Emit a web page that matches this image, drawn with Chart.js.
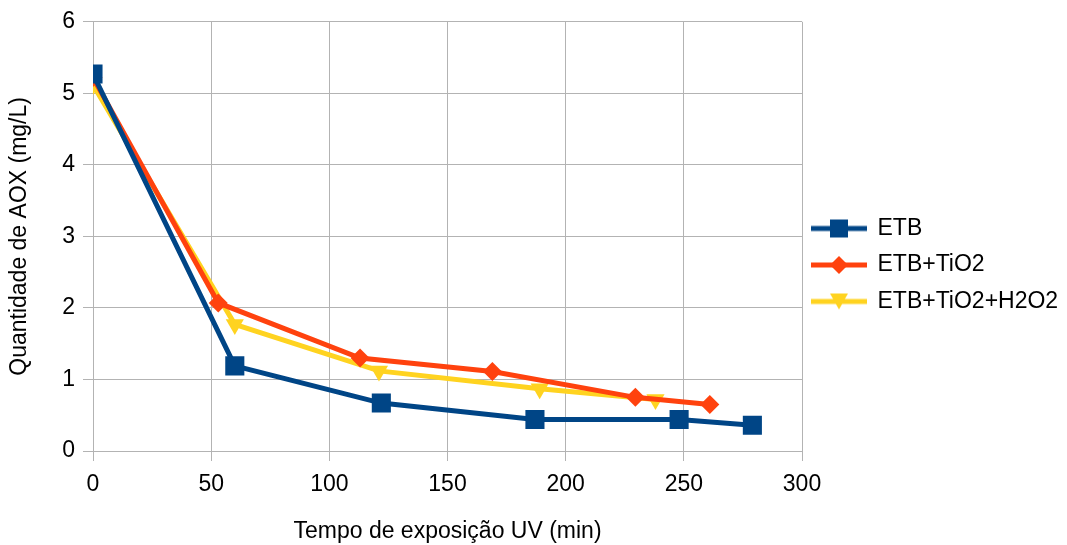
<!DOCTYPE html>
<html>
<head>
<meta charset="utf-8">
<script src="https://cdn.jsdelivr.net/npm/chart.js@4.4.1/dist/chart.umd.min.js"></script>
<style>
html,body{margin:0;padding:0;background:#fff;}
#wrap{width:1067px;height:545px;position:relative;}
</style>
</head>
<body>
<div id="wrap"><canvas id="c" width="1067" height="545"></canvas></div>
<script>
// ---- data ----
const seriesNames = ["ETB", "ETB+TiO2", "ETB+TiO2+H2O2"];
const timeETB = [0, 60, 122, 187, 248, 279];
const aoxETB = [5.27, 1.19, 0.67, 0.44, 0.44, 0.36];
const timeTiO2 = [0, 53, 113, 169, 229.5, 261];
const aoxTiO2 = [5.22, 2.07, 1.30, 1.11, 0.75, 0.65];
const timeH2O2 = [0, 60, 121, 189, 238];
const aoxH2O2 = [5.12, 1.77, 1.12, 0.87, 0.72];
const xTicks = [0, 50, 100, 150, 200, 250, 300];
const yTicks = [0, 1, 2, 3, 4, 5, 6];
const xTitle = "Tempo de exposição UV (min)";
const yTitle = "Quantidade de AOX (mg/L)";

const colors = ["#004586", "#ff420e", "#ffd320"];
const FONT = "'Liberation Sans', Arial, sans-serif";
const FS = 23;

function pts(xs, ys){ return xs.map((x,i)=>({x:x, y:ys[i]})); }

// legend glyph: line with marker
function legendGlyph(color, shape){
  const c = document.createElement('canvas');
  c.width = 56; c.height = 24;
  const g = c.getContext('2d');
  g.strokeStyle = color; g.lineWidth = 5;
  g.beginPath(); g.moveTo(0, 12); g.lineTo(56, 12); g.stroke();
  g.fillStyle = color;
  g.beginPath();
  if (shape === 'rect'){ g.rect(19, 3, 18, 18); }
  else if (shape === 'diamond'){ g.moveTo(28, 3); g.lineTo(37, 12); g.lineTo(28, 21); g.lineTo(19, 12); g.closePath(); }
  else { g.moveTo(19, 4); g.lineTo(37, 4); g.lineTo(28, 20); g.closePath(); }
  g.fill();
  return c;
}
const glyphs = [legendGlyph(colors[0],'rect'), legendGlyph(colors[1],'diamond'), legendGlyph(colors[2],'tri')];

const legendFix = {
  id: 'legendFix',
  beforeUpdate(chart){
    const l = chart.legend;
    if (l && !l._patched){
      const f = l.fit;
      l.fit = function(){ f.call(this); this.width = 265; };
      l._patched = true;
    }
  },
  afterLayout(chart){
    const l = chart.legend; if(!l) return;
    const targetY = 265;
    const dy = targetY - (l.top + l.bottom)/2;
    l.top += dy; l.bottom += dy;
    const targetLeft = 798.5;
    const dx = targetLeft - l.left;
    l.left += dx; l.right += dx;
  }
};

new Chart(document.getElementById('c'), {
  type: 'line',
  data: {
    datasets: [
      { label: seriesNames[0], data: pts(timeETB, aoxETB), borderColor: colors[0], backgroundColor: colors[0],
        borderWidth: 5, pointStyle: 'rect', pointRadius: 13.5, pointBorderWidth: 0, pointHoverRadius: 13.5 },
      { label: seriesNames[1], data: pts(timeTiO2, aoxTiO2), borderColor: colors[1], backgroundColor: colors[1],
        borderWidth: 5, pointStyle: 'rectRot', pointRadius: 9.5, pointBorderWidth: 0, pointHoverRadius: 9.5 },
      { label: seriesNames[2], data: pts(timeH2O2, aoxH2O2), borderColor: colors[2], backgroundColor: colors[2],
        borderWidth: 5, pointStyle: 'triangle', pointRotation: 180, pointRadius: 10.5, pointBorderWidth: 0, pointHoverRadius: 10.5 }
    ]
  },
  options: {
    responsive: false,
    animation: false,
    devicePixelRatio: 1,
    layout: { padding: { top: 20, right: 0, bottom: 0, left: 0 } },
    plugins: {
      legend: {
        position: 'right',
        align: 'center',
        labels: {
          usePointStyle: true,
          pointStyleWidth: 54,
          padding: 13.5,
          color: '#000',
          font: { family: FONT, size: FS },
          generateLabels(chart){
            return chart.data.datasets.map((ds,i)=>({
              text: ds.label, pointStyle: glyphs[i], fillStyle: colors[i], strokeStyle: colors[i],
              lineWidth: 0, hidden: false, datasetIndex: i, fontColor: '#000'
            }));
          }
        }
      },
      tooltip: { enabled: false }
    },
    scales: {
      x: {
        type: 'linear', min: 0, max: 300,
        afterBuildTicks(s){ s.ticks = xTicks.map(v=>({value:v})); },
        afterFit(s){ s.height = 94; },
        grid: { color: '#b3b3b3', lineWidth: 1, tickLength: 10, drawTicks: true },
        border: { color: '#b3b3b3', width: 1 },
        ticks: { color: '#000', font: { family: FONT, size: FS }, padding: 10, maxRotation: 0 },
        title: { display: true, text: xTitle, color: '#000', font: { family: FONT, size: FS }, padding: { top: 0, bottom: 0 } }
      },
      y: {
        type: 'linear', min: 0, max: 6,
        afterBuildTicks(s){ s.ticks = yTicks.map(v=>({value:v})); },
        afterFit(s){ s.width = 93; },
        grid: { color: '#b3b3b3', lineWidth: 1, tickLength: 10 },
        border: { color: '#b3b3b3', width: 1 },
        ticks: { color: '#000', font: { family: FONT, size: FS }, padding: 8 },
        title: { display: true, text: yTitle, color: '#000', font: { family: FONT, size: FS }, padding: { top: 6, bottom: 0 } }
      }
    }
  },
  plugins: [legendFix]
});
</script>
</body>
</html>
